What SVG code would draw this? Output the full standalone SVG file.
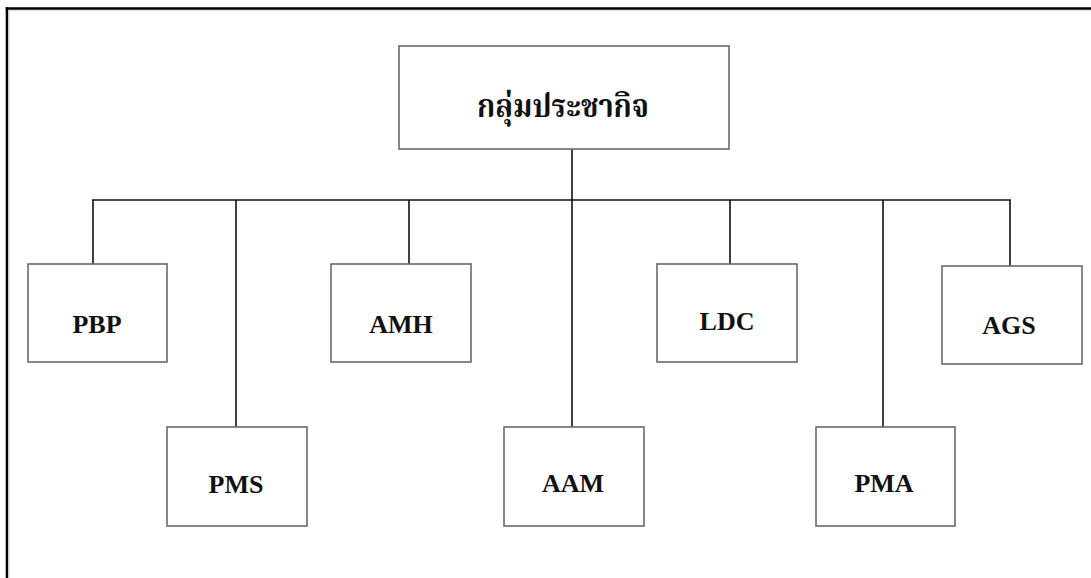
<svg xmlns="http://www.w3.org/2000/svg" width="1091" height="578" viewBox="0 0 1091 578">
<style>
.box{fill:#fff;stroke:#6a6a6a;stroke-width:1.6}
.lbl{font-family:"Liberation Serif","Times New Roman",serif;font-weight:bold;font-size:26px;fill:#111;text-anchor:middle}
.thai{font-family:"Noto Serif Thai","Noto Sans Thai","Liberation Serif",serif;font-weight:bold;font-size:32px;fill:#111;text-anchor:middle}
.conn line{stroke:#111;stroke-width:1.6}
.frame{stroke:#000;stroke-width:2.6}
</style>
<rect width="1091" height="578" fill="#fff"/>
<line class="frame" x1="5.7" y1="8.5" x2="1091" y2="8.5"/>
<line class="frame" x1="7" y1="7.2" x2="7" y2="578"/>
<line x1="9" y1="10.5" x2="1091" y2="10.5" stroke="#ddd" stroke-width="1"/>
<line x1="9" y1="10" x2="9" y2="578" stroke="#ddd" stroke-width="1"/>
<g class="conn" id="connectors">
<line x1="572" y1="149" x2="572" y2="427"/>
<line x1="92" y1="200" x2="1011" y2="200"/>
<line x1="93" y1="200" x2="93" y2="264"/>
<line x1="236" y1="200" x2="236" y2="427"/>
<line x1="409" y1="200" x2="409" y2="264"/>
<line x1="730" y1="200" x2="730" y2="264"/>
<line x1="883" y1="200" x2="883" y2="427"/>
<line x1="1010" y1="200" x2="1010" y2="266"/>
</g>
<g id="root"><rect class="box" x="399" y="46" width="330" height="103"/><text class="thai" x="563" y="117" textLength="172" lengthAdjust="spacingAndGlyphs">กลุ่มประชากิจ</text></g>
<g id="PBP"><rect class="box" x="28" y="264" width="139" height="98"/><text class="lbl" x="97" y="333">PBP</text></g>
<g id="AMH"><rect class="box" x="331" y="264" width="140" height="98"/><text class="lbl" x="401" y="333">AMH</text></g>
<g id="LDC"><rect class="box" x="657" y="264" width="140" height="98"/><text class="lbl" x="727" y="330">LDC</text></g>
<g id="AGS"><rect class="box" x="942" y="266" width="140" height="98"/><text class="lbl" x="1009" y="334">AGS</text></g>
<g id="PMS"><rect class="box" x="167" y="427" width="140" height="99"/><text class="lbl" x="236" y="493">PMS</text></g>
<g id="AAM"><rect class="box" x="504" y="427" width="140" height="99"/><text class="lbl" x="573" y="492">AAM</text></g>
<g id="PMA"><rect class="box" x="816" y="427" width="139" height="99"/><text class="lbl" x="884" y="492">PMA</text></g>
</svg>
